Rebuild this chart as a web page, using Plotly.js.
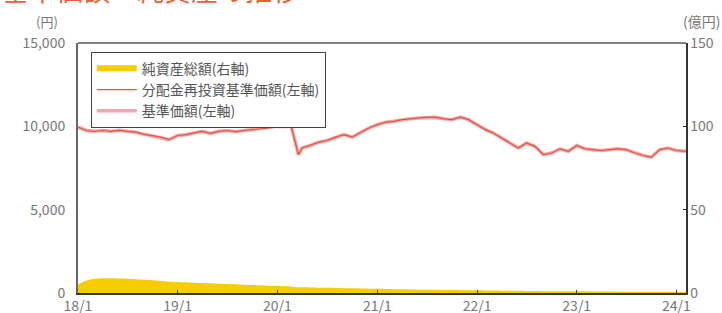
<!DOCTYPE html>
<html>
<head>
<meta charset="utf-8">
<script src="https://cdn.plot.ly/plotly-3.0.1.min.js"></script>
<style>html,body{margin:0;padding:0;background:#fff;}#chart{width:722px;height:313px;}</style>
</head>
<body>
<div id="chart"></div>
<script>
const months = [
"2018-01-01","2018-02-01","2018-03-01","2018-04-01","2018-05-01","2018-06-01","2018-07-01","2018-08-01","2018-09-01","2018-10-01","2018-11-01","2018-12-01",
"2019-01-01","2019-02-01","2019-03-01","2019-04-01","2019-05-01","2019-06-01","2019-07-01","2019-08-01","2019-09-01","2019-10-01","2019-11-01","2019-12-01",
"2020-01-01","2020-02-01","2020-02-20","2020-03-18","2020-04-01","2020-05-01","2020-06-01","2020-07-01","2020-08-01","2020-09-01","2020-10-01","2020-11-01","2020-12-01",
"2021-01-01","2021-02-01","2021-03-01","2021-04-01","2021-05-01","2021-06-01","2021-07-01","2021-08-01","2021-09-01","2021-10-01","2021-11-01","2021-12-01",
"2022-01-01","2022-02-01","2022-03-01","2022-04-01","2022-05-01","2022-06-01","2022-07-01","2022-08-01","2022-09-01","2022-10-01","2022-11-01","2022-12-01",
"2023-01-01","2023-02-01","2023-03-01","2023-04-01","2023-05-01","2023-06-01","2023-07-01","2023-08-01","2023-09-01","2023-10-01","2023-11-01","2023-12-01",
"2024-01-01","2024-02-05"];

const navReinvested = [
9950,9750,9700,9750,9700,9760,9700,9650,9520,9420,9350,9200,
9450,9500,9600,9700,9580,9700,9750,9680,9750,9800,9850,9900,
10000,9980,10050,8300,8700,8850,9050,9150,9350,9500,9350,9650,9900,
10100,10250,10300,10400,10450,10500,10550,10550,10450,10400,10550,10400,
10100,9800,9600,9300,9000,8700,9000,8800,8300,8400,8650,8500,
8850,8650,8600,8550,8600,8650,8600,8400,8250,8150,8600,8700,
8550,8500];

const nav = navReinvested.slice();

const netAssets = [
5.0,7.5,8.5,8.8,8.8,8.7,8.6,8.3,8.0,7.6,7.2,6.8,
6.6,6.4,6.2,6.0,5.8,5.6,5.4,5.2,5.0,4.8,4.6,4.4,
4.2,4.0,3.9,3.4,3.4,3.3,3.2,3.1,3.0,2.9,2.8,2.7,2.6,
2.5,2.4,2.3,2.2,2.1,2.0,1.9,1.9,1.8,1.8,1.7,1.7,
1.6,1.5,1.5,1.4,1.3,1.3,1.2,1.2,1.1,1.1,1.1,1.0,
1.0,1.0,0.9,0.9,0.9,0.8,0.8,0.8,0.7,0.7,0.7,0.7,
0.6,0.6];

const xTickVals = ["2018-01-01","2019-01-01","2020-01-01","2021-01-01","2022-01-01","2023-01-01","2024-01-01"];
const xTickText = ["18/1","19/1","20/1","21/1","22/1","23/1","24/1"];
const yTickVals = [0,5000,10000,15000];
const yTickText = ["0","5,000","10,000","15,000"];
const y2TickVals = [0,50,100,150];
const y2TickText = ["0","50","100","150"];

const font = '"Noto Sans CJK JP", "Noto Sans", sans-serif';

const traces = [
  {x: months, y: netAssets, yaxis: 'y2', type: 'scatter', mode: 'none', fill: 'tozeroy',
   fillcolor: '#f7cd00', name: '純資産総額(右軸)', legendrank: 1, line: {shape: 'spline'}},
  {x: months, y: nav, type: 'scatter', mode: 'lines', line: {color: '#f6a6ae', width: 3.5},
   name: '基準価額(左軸)', legendrank: 3},
  {x: months, y: navReinvested, type: 'scatter', mode: 'lines', line: {color: '#e8553a', width: 1.2},
   name: '分配金再投資基準価額(左軸)', legendrank: 2}
];

const layout = {
  width: 722, height: 313,
  margin: {l: 78, r: 36, t: 43, b: 20, pad: 0},
  paper_bgcolor: '#fff', plot_bgcolor: '#fff',
  font: {family: font, color: '#666', size: 14},
  showlegend: true,
  legend: {x: 0.021, y: 0.965, xanchor: 'left', yanchor: 'top',
    bgcolor: '#fff', bordercolor: '#444', borderwidth: 1,
    font: {family: font, size: 14, color: '#555'}, tracegroupgap: 0,
    itemwidth: 40},
  xaxis: {type: 'date', range: ['2018-01-01', '2024-02-05'],
    tickvals: xTickVals, ticktext: xTickText, ticks: 'inside', ticklen: 3, tickcolor: '#333',
    showgrid: false, zeroline: false, showline: true, linecolor: '#333', linewidth: 1.5,
    mirror: false, tickfont: {size: 14, color: '#777'}},
  yaxis: {range: [0, 15000], tickvals: yTickVals, ticktext: yTickText,
    showgrid: false, zeroline: false, showline: true, linecolor: '#666', linewidth: 2,
    ticks: '', tickfont: {size: 14, color: '#777'}, ticklabelstandoff: 8},
  yaxis2: {range: [0, 150], overlaying: 'y', side: 'right', tickvals: y2TickVals, ticktext: y2TickText,
    showgrid: false, zeroline: false, showline: true, linecolor: '#333', linewidth: 1.5,
    ticks: 'inside', ticklen: 3, tickcolor: '#333', tickfont: {size: 14, color: '#777'}},
  shapes: [
    {type: 'line', xref: 'paper', yref: 'paper', x0: 0, x1: 1, y0: 1, y1: 1, line: {color: '#555', width: 1.5}}
  ],
  annotations: [
    {text: '基準価額・純資産の推移', xref: 'paper', yref: 'paper', x: -0.128, y: 1.13,
     xanchor: 'left', yanchor: 'bottom', showarrow: false,
     font: {family: font, size: 27, color: '#f0602e'}},
    {text: '(円)', xref: 'paper', yref: 'paper', x: -0.03, y: 1.04, xanchor: 'right', yanchor: 'bottom',
     showarrow: false, font: {family: font, size: 13, color: '#777'}},
    {text: '(億円)', xref: 'paper', yref: 'paper', x: 1.06, y: 1.04, xanchor: 'right', yanchor: 'bottom',
     showarrow: false, font: {family: font, size: 14, color: '#777'}}
  ]
};

Plotly.newPlot('chart', traces, layout, {displayModeBar: false, staticPlot: true});
</script>
</body>
</html>
